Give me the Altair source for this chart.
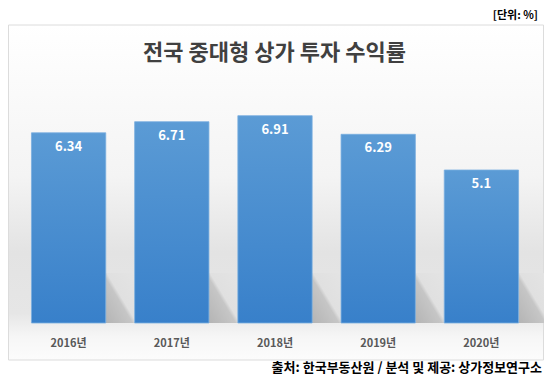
import altair as alt
import pandas as pd

years = ["2016년", "2017년", "2018년", "2019년", "2020년"]
values = [6.34, 6.71, 6.91, 6.29, 5.1]

title_text = "전국 중대형 상가 투자 수익률"
unit_text = "[단위: %]"
source_text = "출처: 한국부동산원 / 분석 및 제공: 상가정보연구소"

FONT = "Noto Sans CJK KR"

df = pd.DataFrame({"year": years, "value": values})
one = pd.DataFrame({"k": [0]})

x_enc = alt.X("year:N", sort=years,
              scale=alt.Scale(paddingInner=0.28, paddingOuter=0.14),
              axis=alt.Axis(title=None, labelAngle=0, domain=False, ticks=False,
                            labelPadding=14, labelFont=FONT, labelFontSize=11,
                            labelFontWeight="bold", labelColor="#595959", grid=False,
                            zindex=1))
y_enc = alt.Y("value:Q", scale=alt.Scale(domain=[0, 8]), axis=None)

panel = alt.Chart(one).mark_rect(
    stroke="#dcdcdc", strokeWidth=1,
    fill=alt.Gradient(gradient="linear", x1=0, y1=0, x2=0, y2=1, stops=[
        alt.GradientStop(offset=0.0, color="#ffffff"),
        alt.GradientStop(offset=0.45, color="#f4f4f4"),
        alt.GradientStop(offset=0.68, color="#e3e3e3"),
        alt.GradientStop(offset=0.86, color="#e6e6e6"),
        alt.GradientStop(offset=0.93, color="#f6f6f6"),
        alt.GradientStop(offset=1.0, color="#fcfcfc"),
    ])
).encode(x=alt.value(-8.5), x2=alt.value(526.5), y=alt.value(-58), y2=alt.value(277))

shadow = alt.Chart(df).mark_bar(
    width=30, xOffset=52,
    fill=alt.Gradient(gradient="linear", x1=0, y1=1, x2=1, y2=0, stops=[
        alt.GradientStop(offset=0.0, color="#b4b4b4"),
        alt.GradientStop(offset=0.45, color="#c6c6c6"),
        alt.GradientStop(offset=0.52, color="#e0e0e0"),
        alt.GradientStop(offset=1.0, color="#e4e4e4"),
    ])
).encode(x=x_enc, y=alt.value(190), y2=alt.value(240))

bars = alt.Chart(df).mark_bar(
    stroke="#7aaee0", strokeWidth=0.8,
    fill=alt.Gradient(gradient="linear", x1=0, y1=0, x2=0, y2=1, stops=[
        alt.GradientStop(offset=0.0, color="#5b9bd5"),
        alt.GradientStop(offset=1.0, color="#3880ca"),
    ])
).encode(x=x_enc, y=y_enc)

labels = alt.Chart(df).mark_text(
    font=FONT, fontSize=13, fontWeight="bold", color="white", dy=14
).encode(x=x_enc, y=y_enc, text=alt.Text("value:Q"))

title = alt.Chart(one).mark_text(
    font=FONT, fontSize=22, fontWeight="bold", color="#404040", align="center", baseline="middle"
).encode(x=alt.value(257.5), y=alt.value(-30), text=alt.value(title_text))

unit = alt.Chart(one).mark_text(
    font=FONT, fontSize=11, fontWeight="bold", color="#000000", align="right", baseline="middle"
).encode(x=alt.value(521), y=alt.value(-67), text=alt.value(unit_text))

source = alt.Chart(one).mark_text(
    font=FONT, fontSize=13, fontWeight="bold", color="#000000", align="right", baseline="middle"
).encode(x=alt.value(525), y=alt.value(284.5), text=alt.value(source_text))

chart = alt.layer(panel, shadow, bars, labels, title, unit, source).properties(
    width=516, height=240,
    autosize=alt.AutoSizeParams(type="none"),
    padding={"left": 9, "top": 75, "right": 11, "bottom": 53},
    background="white",
).configure_view(stroke=None)

chart.save("out.html", embed_options={"renderer": "svg", "actions": False})
